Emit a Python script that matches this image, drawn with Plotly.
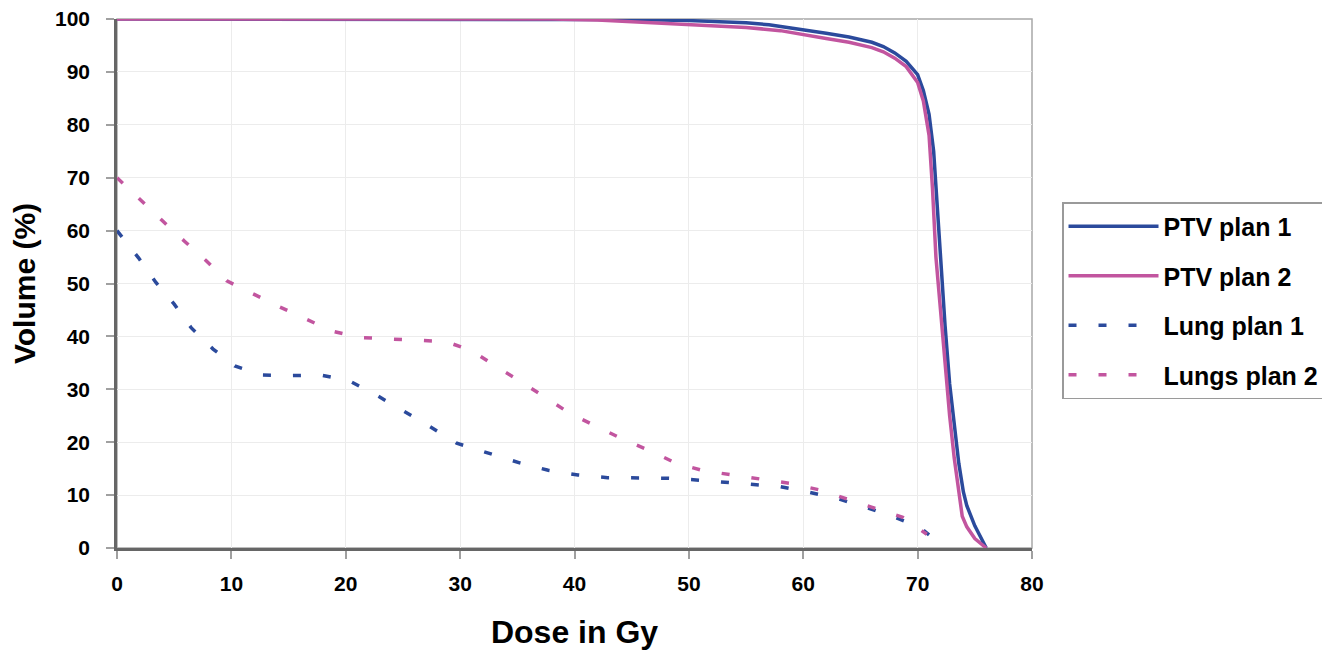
import plotly.graph_objects as go

# PTV plan 1
ptv1_dose = [0, 40, 45, 50, 55, 57, 60, 62, 64, 66, 67, 68, 69, 70, 70.5, 71, 71.4, 71.7, 72, 72.4, 72.8, 73.2, 73.6, 74.0, 74.3, 75, 76]
ptv1_vol = [100, 100, 99.9, 99.7, 99.3, 98.9, 98.0, 97.3, 96.6, 95.6, 94.8, 93.6, 92, 89.5, 86.5, 82, 75, 65, 53, 42, 31, 23, 16, 10.6, 8, 4.2, 0]

# PTV plan 2
ptv2_dose = [0, 38, 42, 46, 50, 55, 58, 60, 62, 64, 66, 67, 68, 69, 70, 70.5, 71, 71.3, 71.6, 72, 72.4, 72.8, 73.2, 73.6, 73.9, 74.3, 75, 76]
ptv2_vol = [100, 100, 99.8, 99.4, 98.9, 98.4, 97.8, 97.0, 96.3, 95.6, 94.6, 93.8, 92.6, 91, 88, 84.5, 78, 68, 55, 45, 34, 25, 17, 10, 6, 4, 1.8, 0]

# Lung plan 1
lung1_dose = [0, 1.9, 3.4, 5.0, 6.5, 8.4, 10.3, 12.7, 15.3, 17.8, 20.3, 22.6, 24.8, 27.1, 29.7, 32.8, 35.2, 37.7, 40.3, 42.9, 45.4, 48.0, 50.4, 52.9, 55.5, 58.0, 60.4, 62.9, 65.3, 67.9, 70.2, 71.0]
lung1_vol = [60, 54.8, 50.2, 46.1, 41.6, 37.6, 34.4, 32.7, 32.6, 32.7, 31.6, 29.0, 26.2, 23.3, 19.8, 17.7, 16.1, 14.7, 13.8, 13.3, 13.2, 13.2, 12.9, 12.5, 12.1, 11.6, 10.6, 9.4, 7.8, 5.9, 3.9, 2.5]

# Lungs plan 2
lung2_dose = [0, 2.1, 4.0, 5.9, 7.8, 9.6, 11.9, 14.2, 16.5, 18.8, 21.2, 23.7, 26.3, 28.8, 31.1, 33.3, 35.5, 37.6, 39.7, 42.0, 44.3, 46.7, 48.9, 51.3, 53.9, 56.4, 58.9, 61.4, 63.9, 66.3, 68.7, 70.8]
lung2_vol = [70, 65.6, 61.8, 58.0, 54.3, 50.5, 48.0, 45.6, 43.3, 41.0, 39.8, 39.5, 39.3, 39.0, 37.2, 34.1, 31.2, 28.3, 25.3, 22.9, 20.5, 18.3, 16.0, 14.6, 13.8, 13.0, 12.2, 11.0, 9.3, 7.5, 5.8, 2.6]

x_ticks = [0, 10, 20, 30, 40, 50, 60, 70, 80]
y_ticks = [0, 10, 20, 30, 40, 50, 60, 70, 80, 90, 100]

BLUE = "#2b4a9c"
PINK = "#c2559f"

fig = go.Figure()
fig.add_trace(go.Scatter(x=ptv1_dose, y=ptv1_vol, mode="lines", name="PTV plan 1", legendgroup="a",
                         line=dict(color=BLUE, width=3.5)))
fig.add_trace(go.Scatter(x=ptv2_dose, y=ptv2_vol, mode="lines", name="PTV plan 2", legendgroup="b",
                         line=dict(color=PINK, width=3.5)))
fig.add_trace(go.Scatter(x=lung1_dose, y=lung1_vol, mode="lines", name="Lung plan 1", legendgroup="c",
                         line=dict(color=BLUE, width=3.5, dash="8px,22px")))
fig.add_trace(go.Scatter(x=lung2_dose, y=lung2_vol, mode="lines", name="Lungs plan 2", legendgroup="d",
                         line=dict(color=PINK, width=3.5, dash="8px,22px")))

font_fam = "Liberation Sans, Arial, sans-serif"

fig.update_layout(
    width=1330, height=642,
    margin=dict(l=109, r=306, t=11, b=102),
    paper_bgcolor="white", plot_bgcolor="white",
    font=dict(family=font_fam, color="black"),
    showlegend=True,
    legend=dict(
        x=1.0328, y=0.654, xanchor="left", yanchor="top",
        bordercolor="#9a9a9a", borderwidth=1.5,
        font=dict(size=25, family=font_fam, color="black", weight="bold"),
        itemwidth=90, tracegroupgap=14, traceorder="grouped",
        bgcolor="white",
    ),
    xaxis=dict(
        range=[0, 80], tickvals=x_ticks, ticktext=[str(v) for v in x_ticks],
        showgrid=True, gridcolor="#ececec", gridwidth=1,
        showline=True, linecolor="#666666", linewidth=2.5,
        ticks="outside", ticklen=8, tickcolor="#a0a0a0", tickwidth=1.5,
        ticklabelstandoff=7, ticklabeloverflow="allow", automargin=False,
        tickfont=dict(size=21, weight="bold"),
        title=dict(text="Dose in Gy", font=dict(size=32, weight="bold"), standoff=27),
        zeroline=False,
    ),
    yaxis=dict(
        range=[0, 100], tickvals=y_ticks, ticktext=[str(v) for v in y_ticks],
        showgrid=True, gridcolor="#ececec", gridwidth=1,
        showline=True, linecolor="#666666", linewidth=2.5,
        ticks="outside", ticklen=8, tickcolor="#a0a0a0", tickwidth=1.5,
        ticklabelstandoff=12, ticklabeloverflow="allow", automargin=False,
        tickfont=dict(size=21, weight="bold"),
        title=dict(text="Volume (%)", font=dict(size=30, weight="bold"), standoff=17),
        zeroline=False,
    ),
    shapes=[dict(type="rect", xref="paper", yref="paper", x0=0, y0=0, x1=1, y1=1,
                 line=dict(color="#a8a8a8", width=1.5), layer="below")],
)

fig.write_html("out.html")
